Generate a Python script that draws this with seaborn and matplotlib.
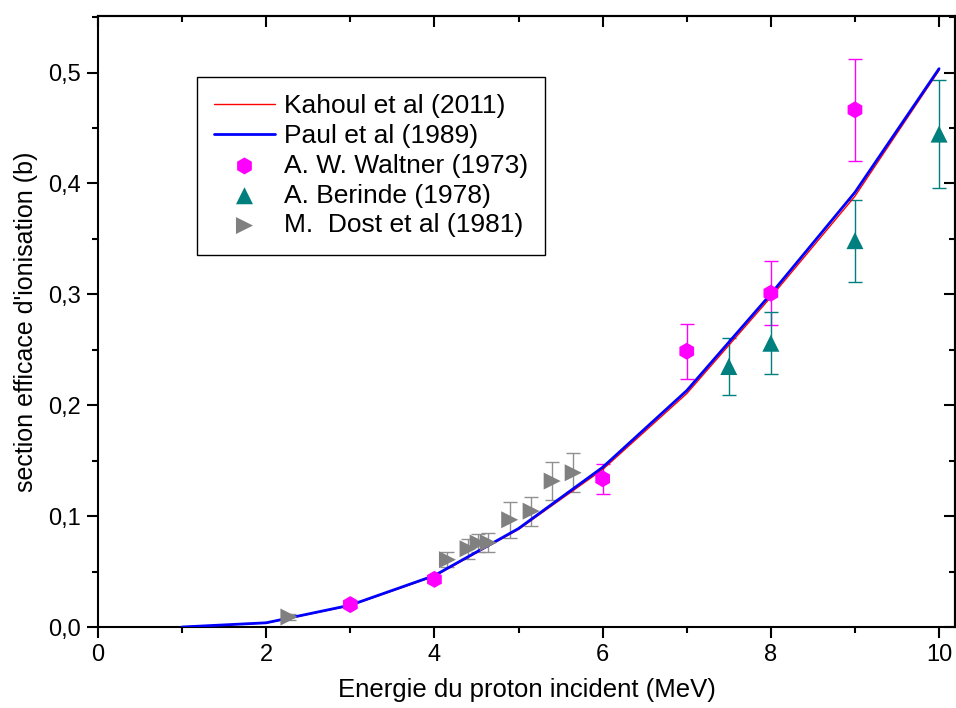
import numpy as np
import matplotlib
matplotlib.use('Agg')
import matplotlib.pyplot as plt
import seaborn as sns
from matplotlib.ticker import MultipleLocator, FuncFormatter

# courbes theoriques
energie = [1, 2, 3, 4, 5, 6, 7, 8, 9, 10]
kahoul = [0.0, 0.0036, 0.0193, 0.0458, 0.0880, 0.1420, 0.2105, 0.2975, 0.3885, 0.5020]
paul = [0.0, 0.0038, 0.0197, 0.0464, 0.0888, 0.1440, 0.2132, 0.3003, 0.3920, 0.5035]

# donnees experimentales
waltner_x = [3, 4, 6, 7, 8, 9]
waltner_y = [0.0202, 0.0430, 0.1337, 0.2487, 0.3010, 0.4664]
waltner_err = [0.002, 0.003, 0.0135, 0.0248, 0.0290, 0.0460]

berinde_x = [7.5, 8, 9, 10]
berinde_y = [0.2349, 0.2559, 0.3484, 0.4445]
berinde_err = [0.0255, 0.0280, 0.0370, 0.0487]

dost_x = [2.27, 4.155, 4.40, 4.52, 4.64, 4.895, 5.15, 5.40, 5.65]
dost_y = [0.0090, 0.0607, 0.0706, 0.0757, 0.0760, 0.0967, 0.1045, 0.1316, 0.1391]
dost_err = [0.003, 0.0068, 0.0090, 0.0085, 0.0087, 0.0160, 0.0130, 0.0170, 0.0178]

sns.set_style('white')
plt.rcParams['font.family'] = ['Liberation Sans', 'DejaVu Sans']
plt.rcParams['text.color'] = 'black'
plt.rcParams['axes.labelcolor'] = 'black'
plt.rcParams['xtick.color'] = 'black'
plt.rcParams['ytick.color'] = 'black'

fig = plt.figure(figsize=(9.56, 7.08), dpi=100)
ax = fig.add_axes([0.1025, 0.1144, 0.8965, 0.863])

# barres d'erreur (sans legende)
ax.errorbar(waltner_x, waltner_y, yerr=waltner_err, fmt='none', ecolor='#FF00FF',
            elinewidth=1, capsize=5, capthick=1, zorder=3)
ax.errorbar(berinde_x, berinde_y, yerr=berinde_err, fmt='none', ecolor='#007F7F',
            elinewidth=1, capsize=5, capthick=1, zorder=3)
ax.errorbar(dost_x, dost_y, yerr=dost_err, fmt='none', ecolor='#909090',
            elinewidth=1, capsize=5, capthick=1, zorder=3)

sns.lineplot(x=energie, y=kahoul, color='#FF0000', lw=1.0, label='Kahoul et al (2011)', ax=ax, zorder=4)
sns.lineplot(x=energie, y=paul, color='#0000FF', lw=2.0, label='Paul et al (1989)', ax=ax, zorder=5)

sns.scatterplot(x=waltner_x, y=waltner_y, marker='h', s=150, color='#FF00FF', edgecolor='none',
                label='A. W. Waltner (1973)', ax=ax, zorder=6)
sns.scatterplot(x=berinde_x, y=berinde_y, marker='^', s=150, color='#007F7F', edgecolor='none',
                label='A. Berinde (1978)', ax=ax, zorder=6)
sns.scatterplot(x=dost_x, y=dost_y, marker='>', s=150, color='#808080', edgecolor='none',
                label='M.  Dost et al (1981)', ax=ax, zorder=6)

ax.set_xlim(0, 10.19)
ax.set_ylim(0, 0.551)

virgule = FuncFormatter(lambda v, p: f'{v:.1f}'.replace('.', ','))
ax.xaxis.set_major_locator(MultipleLocator(2))
ax.xaxis.set_minor_locator(MultipleLocator(1))
ax.yaxis.set_major_locator(MultipleLocator(0.1))
ax.yaxis.set_minor_locator(MultipleLocator(0.05))
ax.yaxis.set_major_formatter(virgule)

for s in ax.spines.values():
    s.set_visible(True)
    s.set_linewidth(1.5)
    s.set_color('black')

ax.tick_params(which='major', direction='out', length=8, width=1.5, labelsize=17, pad=4, color='black')
ax.tick_params(which='minor', direction='out', length=4, width=1.5, color='black')
ax.tick_params(bottom=True, left=True, which='both')

# ticks du haut et de droite vers l'interieur
top = ax.secondary_xaxis('top')
top.xaxis.set_major_locator(MultipleLocator(2))
top.xaxis.set_minor_locator(MultipleLocator(1))
top.tick_params(which='major', direction='in', length=8, width=1.5, labeltop=False)
top.tick_params(which='minor', direction='in', length=4, width=1.5)
top.spines['top'].set_linewidth(1.5)
right = ax.secondary_yaxis('right')
right.yaxis.set_major_locator(MultipleLocator(0.1))
right.yaxis.set_minor_locator(MultipleLocator(0.05))
right.tick_params(which='major', direction='in', length=8, width=1.5, labelright=False)
right.tick_params(which='minor', direction='in', length=4, width=1.5)
right.spines['right'].set_linewidth(1.5)

ax.set_xlabel('Energie du proton incident (MeV)', fontsize=18.5, labelpad=9)
ax.set_ylabel("section efficace d'ionisation (b)", fontsize=18)
ax.yaxis.set_label_coords(-0.07, 0.5)

leg = ax.legend(loc='upper left', bbox_to_anchor=(0.1155, 0.900), fontsize=19, frameon=True,
                fancybox=False, edgecolor='black', framealpha=1, handlelength=2.3,
                labelspacing=0.22, borderpad=0.65, handletextpad=0.35, borderaxespad=0)
leg.get_frame().set_linewidth(1.0)

fig.savefig('out.png', dpi=100)
